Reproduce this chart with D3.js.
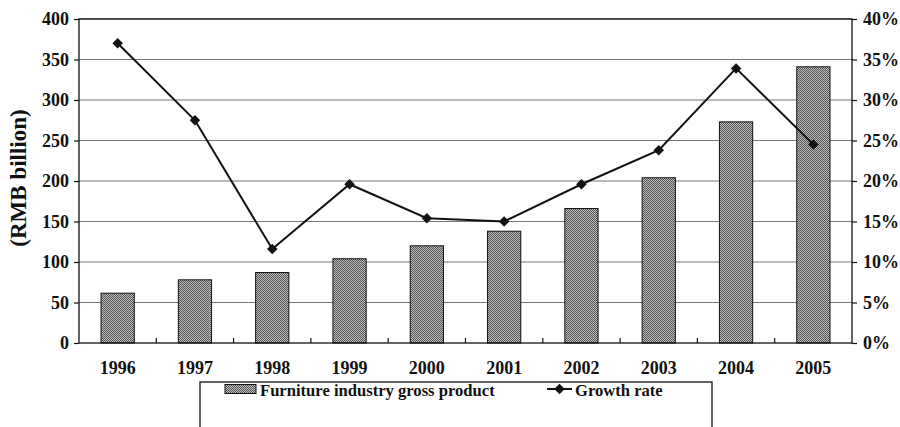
<!DOCTYPE html>
<html>
<head>
<meta charset="utf-8">
<script src="https://cdn.jsdelivr.net/npm/d3@7"></script>
<style>
  html, body { margin: 0; padding: 0; background: #fff; }
  svg { display: block; }
  text { font-family: "Liberation Serif", "Times New Roman", serif; font-weight: bold; fill: #111; }
</style>
</head>
<body>
<svg id="chart" width="900" height="427"></svg>
<script>
// Furniture industry output and its annual growth, 1996–2005
const years = ["1996", "1997", "1998", "1999", "2000", "2001", "2002", "2003", "2004", "2005"];
const grossProduct = [61.5, 78, 87, 104, 120, 138, 166, 204, 273, 341];   // RMB billion
const growthRate = [37.0, 27.5, 11.6, 19.6, 15.4, 15.0, 19.6, 23.8, 33.9, 24.5]; // percent
const leftTicks = [0, 50, 100, 150, 200, 250, 300, 350, 400];
const rightTicks = [0, 5, 10, 15, 20, 25, 30, 35, 40];
const legendLabels = ["Furniture industry gross product", "Growth rate"];

const FONT = '"Liberation Serif", "Times New Roman", serif';
const svg = d3.select("#chart");
const plot = { left: 79, right: 852, top: 19, bottom: 343 };

const x = d3.scaleBand().domain(years).range([plot.left, plot.right]).paddingInner(0.57).paddingOuter(0.285);
const xStep = (plot.right - plot.left) / years.length;
const yL = d3.scaleLinear().domain([0, 400]).range([plot.bottom, plot.top]);
const yR = d3.scaleLinear().domain([0, 40]).range([plot.bottom, plot.top]);

// dithered gray fill for the bars
const defs = svg.append("defs");
const pat = defs.append("pattern").attr("id", "dither")
  .attr("width", 2).attr("height", 2).attr("patternUnits", "userSpaceOnUse");
pat.append("rect").attr("width", 2).attr("height", 2).attr("fill", "#bdbdbd");
pat.append("rect").attr("x", 0).attr("y", 0).attr("width", 1).attr("height", 1).attr("fill", "#555");
pat.append("rect").attr("x", 1).attr("y", 1).attr("width", 1).attr("height", 1).attr("fill", "#555");

// horizontal gridlines
svg.append("g").selectAll("line").data(leftTicks.slice(1)).join("line")
  .attr("x1", plot.left).attr("x2", plot.right)
  .attr("y1", d => yL(d)).attr("y2", d => yL(d))
  .attr("stroke", "#777").attr("stroke-width", 1.2);

// bars
svg.append("g").selectAll("rect").data(years).join("rect")
  .attr("x", d => x(d))
  .attr("y", (d, i) => yL(grossProduct[i]))
  .attr("width", x.bandwidth())
  .attr("height", (d, i) => yL(0) - yL(grossProduct[i]))
  .attr("fill", "url(#dither)")
  .attr("stroke", "#111").attr("stroke-width", 1);

// plot frame
svg.append("rect")
  .attr("x", plot.left).attr("y", plot.top)
  .attr("width", plot.right - plot.left).attr("height", plot.bottom - plot.top)
  .attr("fill", "none").attr("stroke", "#111").attr("stroke-width", 1.3);

function styleAxis(g) {
  g.attr("font-family", FONT).attr("font-size", 18).attr("font-weight", "bold");
  g.select(".domain").remove();
  g.selectAll("line").attr("stroke", "#111").attr("stroke-width", 1.2);
  g.selectAll("text").style("font-family", FONT).style("font-size", "18px").style("font-weight", "bold").attr("fill", "#111");
}

// left axis
svg.append("g").attr("transform", `translate(${plot.left},0)`)
  .call(d3.axisLeft(yL).tickValues(leftTicks).tickSize(5).tickPadding(5))
  .call(styleAxis);

// right axis
svg.append("g").attr("transform", `translate(${plot.right},0)`)
  .call(d3.axisRight(yR).tickValues(rightTicks).tickFormat(d => d + "%").tickSize(5).tickPadding(6))
  .call(styleAxis);

// category dividers on the baseline (pointing inward)
svg.append("g").selectAll("line").data(d3.range(1, years.length)).join("line")
  .attr("x1", i => plot.left + i * xStep).attr("x2", i => plot.left + i * xStep)
  .attr("y1", plot.bottom).attr("y2", plot.bottom - 5)
  .attr("stroke", "#111").attr("stroke-width", 1.2);

// year labels
svg.append("g").selectAll("text").data(years).join("text")
  .attr("x", d => x(d) + x.bandwidth() / 2)
  .attr("y", 374)
  .attr("text-anchor", "middle")
  .style("font-size", "18px")
  .text(d => d);

// y-axis title
svg.append("text")
  .attr("transform", "translate(26,178) rotate(-90)")
  .attr("text-anchor", "middle")
  .style("font-size", "23px")
  .text("(RMB billion)");

// growth line
const line = d3.line()
  .x((d, i) => x(years[i]) + x.bandwidth() / 2)
  .y(d => yR(d));
svg.append("path").datum(growthRate)
  .attr("d", line).attr("fill", "none")
  .attr("stroke", "#111").attr("stroke-width", 2);

const diamond = d3.symbol().type(d3.symbolDiamond2).size(70);
svg.append("g").selectAll("path").data(growthRate).join("path")
  .attr("transform", (d, i) => `translate(${x(years[i]) + x.bandwidth() / 2},${yR(d)})`)
  .attr("d", diamond).attr("fill", "#111");

// legend
const lg = svg.append("g");
lg.append("rect").attr("x", 200).attr("y", 382).attr("width", 512).attr("height", 60)
  .attr("fill", "#fff").attr("stroke", "#111").attr("stroke-width", 1.3);
lg.append("rect").attr("x", 225).attr("y", 384.5).attr("width", 31).attr("height", 9)
  .attr("fill", "url(#dither)").attr("stroke", "#111").attr("stroke-width", 1);
lg.append("text").attr("x", 260).attr("y", 396).style("font-size", "16.6px").text(legendLabels[0]);
lg.append("line").attr("x1", 547).attr("x2", 572).attr("y1", 389).attr("y2", 389)
  .attr("stroke", "#111").attr("stroke-width", 2);
lg.append("path").attr("transform", "translate(559.5,389)").attr("d", diamond).attr("fill", "#111");
lg.append("text").attr("x", 575).attr("y", 396).style("font-size", "16.6px").text(legendLabels[1]);
</script>
</body>
</html>
